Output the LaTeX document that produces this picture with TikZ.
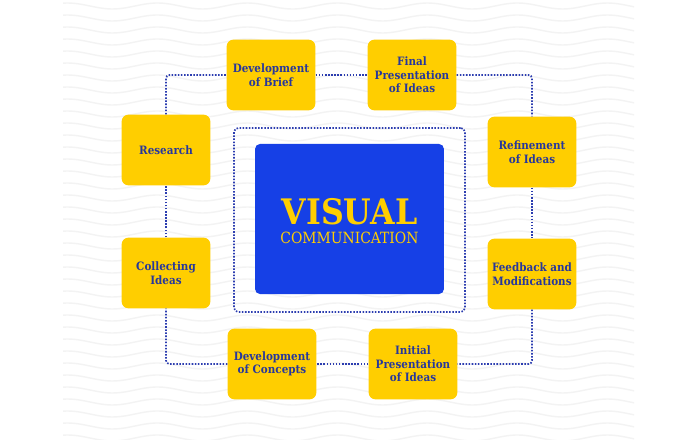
\documentclass[tikz,border=0pt]{standalone}
\usepackage{fontspec}
\setmainfont{DejaVu Serif Condensed}
\usepackage{xcolor}
\usetikzlibrary{positioning,calc}
\definecolor{cYellow}{HTML}{FFCE00}
\definecolor{cBlue}{HTML}{1640E6}
\definecolor{cInk}{HTML}{27379C}
\definecolor{cDot}{HTML}{2C3DB0}
\definecolor{cWave}{HTML}{F3F3F3}

\begin{document}
\begin{tikzpicture}[x=0.025cm,y=-0.025cm,
  stage/.style={fill=cYellow,rounded corners=5pt,align=center,
                text=cInk,font=\bfseries\fontsize{8.2}{9.6}\selectfont,
                minimum width=2.22cm,minimum height=1.77cm,inner sep=2pt},
  hub/.style={fill=cBlue,rounded corners=3.5pt,
              minimum width=4.72cm,minimum height=3.75cm},
  dots/.style={draw=cDot,line width=1.2pt,dash pattern=on 1.1pt off 1.1pt},
  halo/.style={dots,rounded corners=3pt,
               minimum width=5.77cm,minimum height=4.6cm},
  loop/.style={dots,rounded corners=2.5pt},
  wave/.style={cWave,line width=1pt}]

\useasboundingbox (0,0) rectangle (700,440);
\fill[white] (0,0) rectangle (700,440);

% wavy backdrop
\begin{scope}
  \clip (63,0) rectangle (634,440);
  \foreach \row in {-6,6,...,446}
    \draw[wave] plot[domain=60:640,samples=80,smooth]
      (\x,{\row+3*sin(4*\x)});
\end{scope}

% centre
\node[halo] (frame) at (349.5,220) {};
\node[hub] (core) at (349.5,219) {};
\node[text=cYellow,font=\bfseries\fontsize{25}{26}\selectfont] (title) at (349.5,212) {VISUAL};
\node[text=cYellow,font=\fontsize{11}{12}\selectfont] (subtitle) at (349.5,238) {COMMUNICATION};

% stages
\node[stage] (brief) at (271,75) {Development\\of Brief};
\node[stage] (final) at (412,75) {Final\\Presentation\\of Ideas};
\node[stage] (research) at (166,150) {Research};
\node[stage] (refine) at (532,152) {Refinement\\of Ideas};
\node[stage] (collect) at (166,273) {Collecting\\Ideas};
\node[stage] (feedback) at (532,274) {Feedback and\\Modifications};
\node[stage] (concepts) at (272,364) {Development\\of Concepts};
\node[stage] (initial) at (413,364) {Initial\\Presentation\\of Ideas};

% cycle
\draw[loop] (research.north) |- (brief.west);
\draw[loop] (brief.east) -- (final.west);
\draw[loop] (final.east) -| (refine.north);
\draw[loop] (refine.south) -- (feedback.north);
\draw[loop] (feedback.south) |- (initial.east);
\draw[loop] (initial.west) -- (concepts.east);
\draw[loop] (concepts.west) -| (collect.south);
\draw[loop] (collect.north) -- (research.south);
\end{tikzpicture}
\end{document}
